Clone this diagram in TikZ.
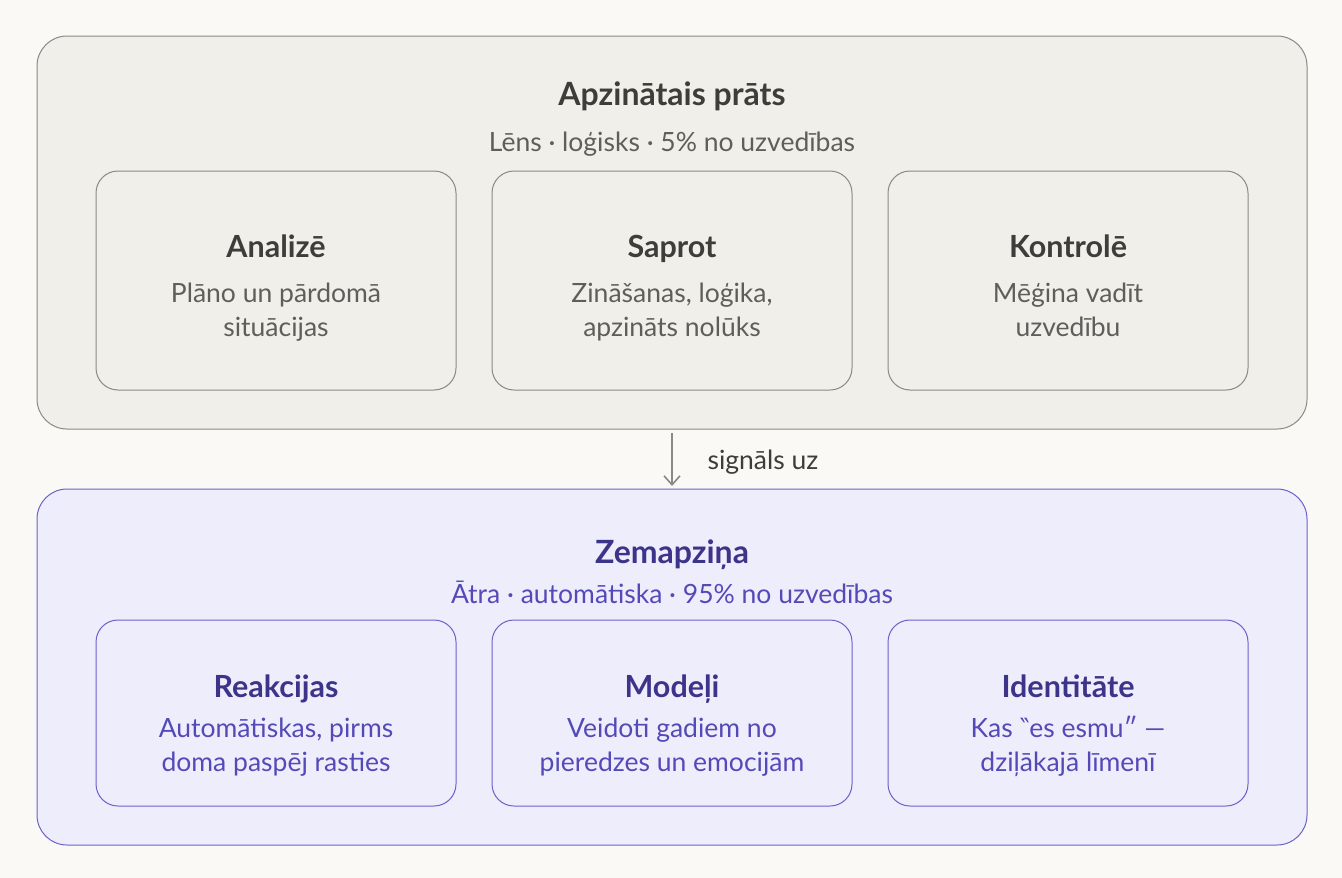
\documentclass[tikz,border=0pt]{standalone}
\usepackage{fontspec}
\setmainfont{Lato}
\newfontfamily\quotefont{DejaVu Sans}
\usepackage{tikz}
\usetikzlibrary{arrows.meta,positioning}

\definecolor{pagebg}{HTML}{FAF9F5}
\definecolor{graybg}{HTML}{F0EFEA}
\definecolor{grayline}{HTML}{8A8984}
\definecolor{graydark}{HTML}{3D3D3A}
\definecolor{graytext}{HTML}{5F5E5A}
\definecolor{purplebg}{HTML}{EEEDFC}
\definecolor{purpleline}{HTML}{6A62C9}
\definecolor{purpledark}{HTML}{3C3489}
\definecolor{purpletext}{HTML}{534AB7}

\tikzset{
  outerbox/.style={rounded corners=30pt, line width=1pt},
  innerbox/.style={rounded corners=22pt, line width=1pt},
  headtxt/.style={anchor=base, font=\fontsize{32}{38}\selectfont\bfseries},
  subtxt/.style={anchor=base, font=\fontsize{26.5}{31}\selectfont},
  cardhead/.style={anchor=base, font=\fontsize{30.5}{36}\selectfont\bfseries},
  cardtxt/.style={anchor=base, font=\fontsize{26.5}{34}\selectfont, align=center},
}

\begin{document}
\begin{tikzpicture}[x=1pt,y=-1pt]
\useasboundingbox (0,0) rectangle (1342,878);
\fill[pagebg] (0,0) rectangle (1342,878);

% conscious mind
\filldraw [outerbox, fill=graybg, draw=grayline] (37,36) rectangle (1307,429);
\node [headtxt, text=graydark] (apz) at (672,105) {Apzinātais prāts};
\node [subtxt, text=graytext] (apzsub) at (672,151) {Lēns · loģisks · 5\% no uzvedības};

\filldraw [innerbox, fill=graybg, draw=grayline] (96,171) rectangle (456,390);
\filldraw [innerbox, fill=graybg, draw=grayline] (492,171) rectangle (852,390);
\filldraw [innerbox, fill=graybg, draw=grayline] (888,171) rectangle (1248,390);
\node [cardhead, text=graydark] (anal) at (276,257) {Analizē};
\node [cardtxt, text=graytext] (analtxt) at (276,336) {Plāno un pārdomā\\situācijas};
\node [cardhead, text=graydark] (sapr) at (672,257) {Saprot};
\node [cardtxt, text=graytext] (saprtxt) at (672,336) {Zināšanas, loģika,\\apzināts nolūks};
\node [cardhead, text=graydark] (kont) at (1068,257) {Kontrolē};
\node [cardtxt, text=graytext] (konttxt) at (1068,336) {Mēģina vadīt\\uzvedību};

% signal
\coordinate (sigtop) at (672,433);
\coordinate (sigbot) at (672,486);
\draw [-{Straight Barb[length=9pt,width=16pt]}, grayline, line width=1.6pt] (sigtop) -- (sigbot);
\node [subtxt, text=graydark, anchor=base west] (sig) at (704,469) {signāls uz};

% subconscious
\filldraw [outerbox, fill=purplebg, draw=purpleline] (37,489) rectangle (1307,845);
\node [headtxt, text=purpledark] (zem) at (672,563) {Zemapziņa};
\node [subtxt, text=purpletext] (zemsub) at (672,603) {Ātra · automātiska · 95\% no uzvedības};

\filldraw [innerbox, fill=purplebg, draw=purpleline] (96,620) rectangle (456,806);
\filldraw [innerbox, fill=purplebg, draw=purpleline] (492,620) rectangle (852,806);
\filldraw [innerbox, fill=purplebg, draw=purpleline] (888,620) rectangle (1248,806);
\node [cardhead, text=purpledark] (reak) at (276,697) {Reakcijas};
\node [cardtxt, text=purpletext] (reaktxt) at (276,771) {Automātiskas, pirms\\doma paspēj rasties};
\node [cardhead, text=purpledark] (mode) at (672,697) {Modeļi};
\node [cardtxt, text=purpletext] (modetxt) at (672,771) {Veidoti gadiem no\\pieredzes un emocijām};
\node [cardhead, text=purpledark] (iden) at (1068,697) {Identitāte};
\node [cardtxt, text=purpletext] (identxt) at (1068,771) {Kas {\quotefont ‶}es esmu″ —\\dziļākajā līmenī};

\end{tikzpicture}
\end{document}
